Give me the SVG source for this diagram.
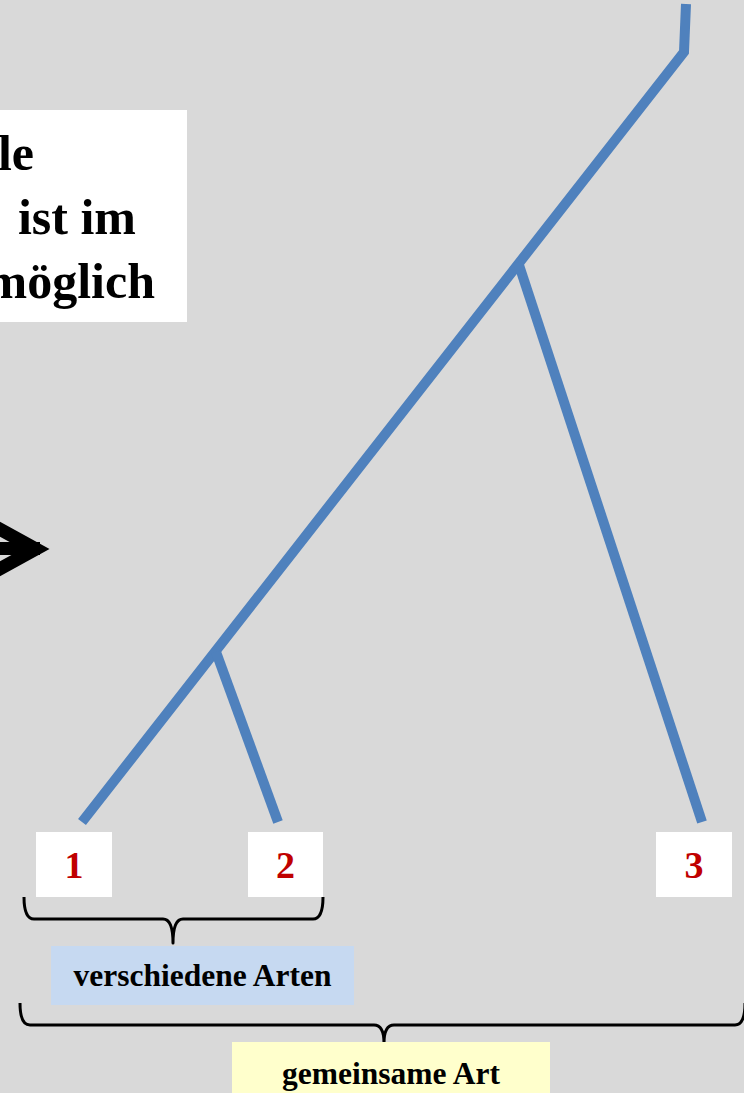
<svg xmlns="http://www.w3.org/2000/svg" width="744" height="1093" viewBox="0 0 744 1093">
  <style>
    .bg { fill: #d9d9d9; }
    .branch { fill: none; stroke: #4f81bd; stroke-width: 10; stroke-linecap: butt; stroke-linejoin: miter; }
    .brace { fill: none; stroke: #000000; stroke-width: 3; stroke-linejoin: round; }
    .leafbox { fill: #ffffff; }
    .num { font-family: "Liberation Serif", "Times New Roman", serif; font-weight: bold; font-size: 38px; fill: #c00000; text-anchor: middle; }
    .label { font-family: "Liberation Serif", "Times New Roman", serif; font-weight: bold; font-size: 31.5px; fill: #000000; text-anchor: middle; }
    .note { font-family: "Liberation Serif", "Times New Roman", serif; font-weight: bold; font-size: 50px; fill: #000000; text-anchor: end; }
  </style>

  <rect class="bg" x="0" y="0" width="744" height="1093"/>

  <!-- note box (runs past the left edge) -->
  <g id="note">
    <rect x="-20" y="110" width="207" height="212" fill="#ffffff"/>
    <text class="note" x="34" y="170">le</text>
    <text class="note" x="136" y="234">ist im</text>
    <text class="note" x="155" y="298">möglich</text>
  </g>

  <!-- thick arrow pointing right -->
  <g id="arrow">
    <rect x="-40" y="542" width="80" height="13" fill="#000000"/>
    <polyline points="-6,526 36,549 -6,572" fill="none" stroke="#000000" stroke-width="13" stroke-linejoin="miter" stroke-miterlimit="10"/>
  </g>

  <!-- tree branches -->
  <g id="connectors">
    <polyline class="branch" points="686,4 684,52 82,822"/>
    <line class="branch" x1="518" y1="262" x2="702" y2="822"/>
    <line class="branch" x1="216" y1="652" x2="278" y2="822"/>
  </g>

  <!-- leaves -->
  <g id="leaf1">
    <rect class="leafbox" x="36" y="832" width="76" height="65"/>
    <text class="num" x="74" y="878">1</text>
  </g>
  <g id="leaf2">
    <rect class="leafbox" x="248" y="832" width="75" height="65"/>
    <text class="num" x="285.5" y="878">2</text>
  </g>
  <g id="leaf3">
    <rect class="leafbox" x="656" y="832" width="76" height="65"/>
    <text class="num" x="694" y="878">3</text>
  </g>

  <!-- brace grouping 1 and 2 -->
  <g id="brace-small">
    <path class="brace" d="M24,897 Q24,919 34,919 H163 Q173,919 173,943 Q173,919 183,919 H313 Q323,919 323,897"/>
  </g>
  <g id="label-verschiedene">
    <rect x="51" y="946" width="303" height="59" fill="#c6d9f1"/>
    <text class="label" x="202.5" y="986">verschiedene Arten</text>
  </g>

  <!-- brace grouping all leaves -->
  <g id="brace-large">
    <path class="brace" d="M20,1003 Q20,1025 30,1025 H374 Q384,1025 384,1043 Q384,1025 394,1025 H735 Q745,1025 745,1003"/>
  </g>
  <g id="label-gemeinsam">
    <rect x="232" y="1042" width="318" height="60" fill="#ffffcc"/>
    <text class="label" x="391" y="1084">gemeinsame Art</text>
  </g>
</svg>
